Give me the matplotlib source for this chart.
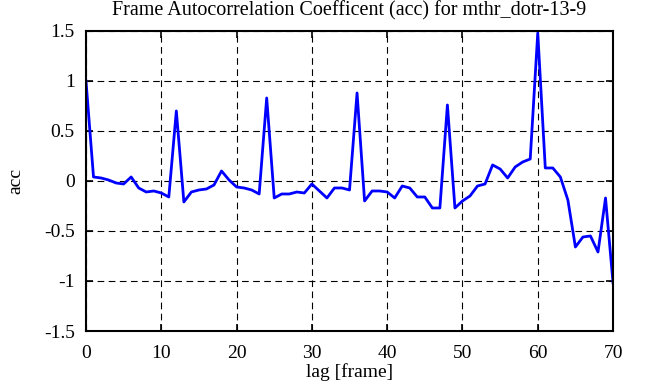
import matplotlib
matplotlib.use("Agg")
import matplotlib.pyplot as plt

# autocorrelation coefficient per lag
lags = list(range(0, 71))
acc = [1.00, 0.04, 0.03, 0.01, -0.02, -0.03, 0.04, -0.07, -0.11, -0.10,
       -0.12, -0.16, 0.70, -0.21, -0.11, -0.09, -0.08, -0.04, 0.10, 0.01,
       -0.06, -0.07, -0.09, -0.13, 0.83, -0.17, -0.13, -0.13, -0.11, -0.12,
       -0.03, -0.10, -0.17, -0.07, -0.07, -0.09, 0.88, -0.20, -0.10, -0.10,
       -0.11, -0.17, -0.05, -0.07, -0.16, -0.16, -0.27, -0.27, 0.76, -0.27,
       -0.20, -0.15, -0.05, -0.03, 0.16, 0.12, 0.03, 0.14, 0.19, 0.22,
       1.48, 0.13, 0.13, 0.04, -0.19, -0.66, -0.56, -0.55, -0.71, -0.17,
       -1.02]

xticks = [0, 10, 20, 30, 40, 50, 60, 70]
yticks = [-1.5, -1, -0.5, 0, 0.5, 1, 1.5]
ytick_labels = ["-1.5", "-1", "-0.5", "0", "0.5", "1", "1.5"]

plt.rcParams['font.family'] = ['Liberation Serif', 'DejaVu Serif']

fig = plt.figure(figsize=(6.46, 3.87), dpi=100)
ax = fig.add_axes([0.1331, 0.1447, 0.8159, 0.7753])

ax.plot(lags, acc, color='#0000ff', linewidth=2.0)

ax.set_xlim(0, 70)
ax.set_ylim(-1.5, 1.5)
ax.set_xticks(xticks)
ax.set_yticks(yticks)
ax.set_yticklabels(ytick_labels)
ax.grid(True, color='black', linestyle=(0, (6, 4)), linewidth=0.8)

ax.tick_params(direction='in', top=True, right=True, length=5, width=1.2,
               labelsize=14)
ax.tick_params(axis='x', pad=10)
ax.tick_params(axis='y', pad=8)
for s in ax.spines.values():
    s.set_linewidth(1.5)

ax.set_title("Frame Autocorrelation Coefficent (acc) for mthr_dotr-13-9", fontsize=14.5, pad=11)
ax.set_xlabel("lag [frame]", fontsize=14, labelpad=1)
ax.set_ylabel("acc", fontsize=14, labelpad=14)

fig.savefig("out.png", dpi=100)
